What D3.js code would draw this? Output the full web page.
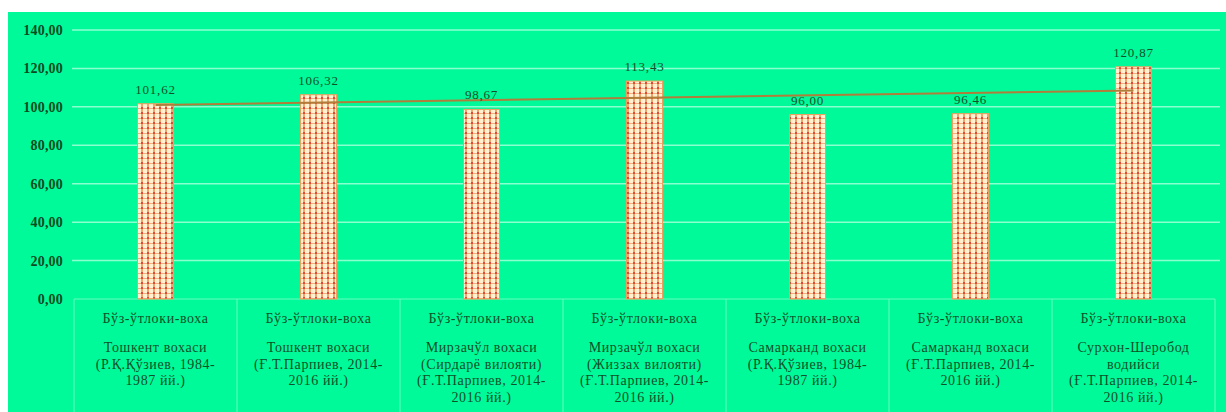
<!DOCTYPE html>
<html>
<head>
<meta charset="utf-8">
<script src="https://cdn.jsdelivr.net/npm/d3@7"></script>
<style>
  html, body { margin: 0; padding: 0; background: #ffffff; }
  svg { display: block; }
  text { font-family: "Liberation Serif", "DejaVu Serif", serif; }
</style>
</head>
<body>
<svg id="chart" width="1226" height="412"></svg>
<script>
// Soil group label shown on the first line of every category
const soilGroup = "Бўз-ўтлоки-воха";

// Region / source lines under each bar
const categoryLines = [
  ["Тошкент вохаси", "(Р.Қ.Қўзиев, 1984-", "1987 йй.)"],
  ["Тошкент вохаси", "(Ғ.Т.Парпиев, 2014-", "2016 йй.)"],
  ["Мирзачўл вохаси", "(Сирдарё вилояти)", "(Ғ.Т.Парпиев, 2014-", "2016 йй.)"],
  ["Мирзачўл вохаси", "(Жиззах вилояти)", "(Ғ.Т.Парпиев, 2014-", "2016 йй.)"],
  ["Самарканд вохаси", "(Р.Қ.Қўзиев, 1984-", "1987 йй.)"],
  ["Самарканд вохаси", "(Ғ.Т.Парпиев, 2014-", "2016 йй.)"],
  ["Сурхон-Шеробод", "водийси", "(Ғ.Т.Парпиев, 2014-", "2016 йй.)"]
];

// Bar values
const values = [101.62, 106.32, 98.67, 113.43, 96.00, 96.46, 120.87];

// Y axis ticks
const yTicks = [0, 20, 40, 60, 80, 100, 120, 140];

const fmt = v => v.toFixed(2).replace(".", ",");

const svg = d3.select("#chart");

// Plot background
svg.append("rect")
  .attr("x", 8).attr("y", 12)
  .attr("width", 1226 - 8).attr("height", 412 - 12)
  .attr("fill", "#00FA9A");

// Checked fill for the bars
const defs = svg.append("defs");
const pat = defs.append("pattern")
  .attr("id", "grid")
  .attr("patternUnits", "userSpaceOnUse")
  .attr("width", 6).attr("height", 5);
pat.append("rect").attr("width", 6).attr("height", 5).attr("fill", "#FFF1D2");
pat.append("rect").attr("x", 3).attr("y", 0).attr("width", 2).attr("height", 5).attr("fill", "#EDA66C");
pat.append("rect").attr("x", 0).attr("y", 3).attr("width", 6).attr("height", 1).attr("fill", "#F2B07C");
pat.append("rect").attr("x", 3).attr("y", 2).attr("width", 2).attr("height", 2).attr("fill", "#DC4A3C");

const idx = d3.range(values.length);

const x = d3.scaleBand()
  .domain(idx)
  .range([74, 1215])
  .paddingInner(0)
  .paddingOuter(0);

const y = d3.scaleLinear()
  .domain([0, 140])
  .range([299, 30]);

// Horizontal gridlines
svg.append("g")
  .selectAll("line")
  .data(yTicks.filter(t => t > 0))
  .join("line")
  .attr("x1", 72).attr("x2", 1220)
  .attr("y1", d => y(d)).attr("y2", d => y(d))
  .attr("stroke", "#8CFFD0")
  .attr("stroke-width", 1.5);

// Y axis labels
const yAxis = d3.axisLeft(y)
  .tickValues(yTicks)
  .tickFormat(fmt)
  .tickSize(0)
  .tickPadding(0);
const yg = svg.append("g")
  .attr("transform", "translate(63,0)")
  .call(yAxis);
yg.select(".domain").remove();
yg.selectAll("text")
  .attr("font-family", "Liberation Serif")
  .attr("font-size", 14)
  .attr("font-weight", "bold")
  .attr("letter-spacing", 0.2)
  .attr("fill", "#084A20");

// Category boxes under the axis
svg.append("g")
  .selectAll("line")
  .data(d3.range(values.length + 1))
  .join("line")
  .attr("x1", i => 74 + i * x.bandwidth())
  .attr("x2", i => 74 + i * x.bandwidth())
  .attr("y1", y(0)).attr("y2", 412)
  .attr("stroke", "#66FDBE")
  .attr("stroke-width", 1);
svg.append("line")
  .attr("x1", 74).attr("x2", 1215)
  .attr("y1", y(0)).attr("y2", y(0))
  .attr("stroke", "#66FDBE")
  .attr("stroke-width", 1);

// Bars
const barW = 36;
svg.append("g")
  .selectAll("rect")
  .data(values)
  .join("rect")
  .attr("x", (d, i) => x(i) + x.bandwidth() / 2 - barW / 2)
  .attr("y", d => y(d))
  .attr("width", barW)
  .attr("height", d => y(0) - y(d))
  .attr("fill", "url(#grid)")
  .attr("stroke", "#EFA060")
  .attr("stroke-width", 1);

// Linear trend line (least squares over bar positions)
const n = values.length;
const xs = idx.map(i => i + 1);
const mx = d3.mean(xs), my = d3.mean(values);
const slope = d3.sum(xs.map((v, i) => (v - mx) * (values[i] - my))) / d3.sum(xs.map(v => (v - mx) ** 2));
const icpt = my - slope * mx;
const trend = idx.map(i => ({ i, v: icpt + slope * (i + 1) }));
svg.append("path")
  .datum([trend[0], trend[n - 1]])
  .attr("d", d3.line()
    .x(d => x(d.i) + x.bandwidth() / 2)
    .y(d => y(d.v)))
  .attr("fill", "none")
  .attr("stroke", "#B07E3A")
  .attr("stroke-width", 2);

// Value labels above bars
svg.append("g")
  .selectAll("text")
  .data(values)
  .join("text")
  .attr("x", (d, i) => x(i) + x.bandwidth() / 2)
  .attr("y", d => y(d) - 10)
  .attr("text-anchor", "middle")
  .attr("font-size", 13)
  .attr("letter-spacing", 0.8)
  .attr("fill", "#0B5027")
  .text(fmt);

// Category labels
const cat = svg.append("g")
  .selectAll("g")
  .data(categoryLines)
  .join("g")
  .attr("transform", (d, i) => `translate(${x(i) + x.bandwidth() / 2},0)`);

cat.append("text")
  .attr("y", 323)
  .attr("text-anchor", "middle")
  .attr("font-size", 14)
  .attr("letter-spacing", 0.6)
  .attr("fill", "#0B5027")
  .text(soilGroup);

cat.each(function (lines) {
  d3.select(this).selectAll("text.line")
    .data(lines)
    .join("text")
    .attr("class", "line")
    .attr("y", (d, k) => 352 + k * 16.5)
    .attr("text-anchor", "middle")
    .attr("font-size", 14)
    .attr("letter-spacing", 0.6)
    .attr("fill", "#0B5027")
    .text(d => d);
});
</script>
</body>
</html>
